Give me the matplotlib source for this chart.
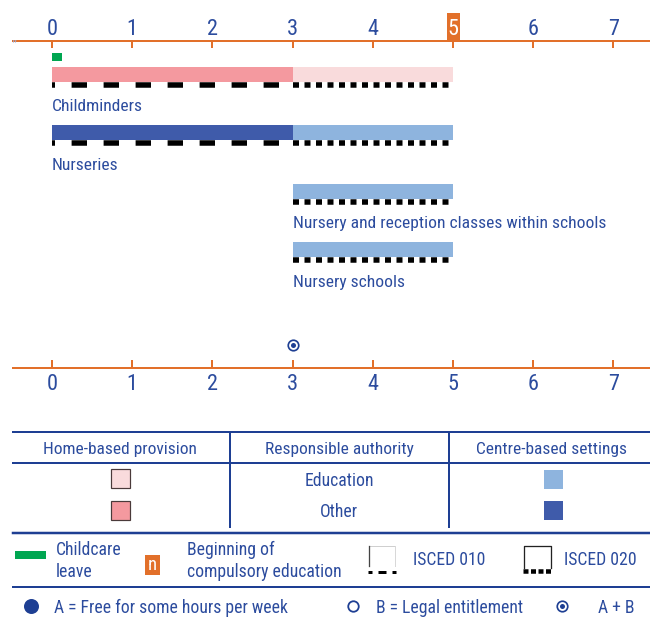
import matplotlib
matplotlib.use("Agg")
import matplotlib.pyplot as plt
from matplotlib import font_manager
from matplotlib.font_manager import FontProperties
from matplotlib.patches import Rectangle

plt.rcParams['lines.scale_dashes'] = False

# ---- find a condensed sans font ----
def find_condensed():
    ents = font_manager.fontManager.ttflist
    prefs = ['liberation sans narrow', 'arial narrow', 'roboto condensed', 'open sans condensed',
             'noto sans', 'dejavu sans', 'lato', 'inter', 'roboto']
    cands = []
    for e in ents:
        nm = e.name.lower()
        fn = e.fname.lower()
        cond = (e.stretch in ('condensed', 'semi-condensed', 'extra-condensed', 'ultra-condensed')
                or 'narrow' in nm or 'condensed' in nm or 'condensed' in fn or 'narrow' in fn)
        if not cond:
            continue
        if e.style != 'normal':
            continue
        w = e.weight if isinstance(e.weight, int) else {'normal': 400, 'regular': 400}.get(str(e.weight), 500)
        if w != 400:
            continue
        if 'mono' in nm or 'serif' in nm and 'sans' not in nm:
            continue
        rank = len(prefs)
        for k, p in enumerate(prefs):
            if nm.startswith(p) or p.replace(' ', '') in fn.replace('-', '').replace('_', ''):
                rank = k
                break
        extra = 0 if ('extra' not in fn and 'ultra' not in fn and 'semi' not in fn) else 1
        cands.append((rank, extra, e.fname))
    if cands:
        cands.sort()
        return cands[0][2]
    return None

CFILE = find_condensed()
if CFILE:
    SC = 1.0
else:
    plt.rcParams['font.family'] = ['Liberation Sans', 'DejaVu Sans']
    SC = 0.85


def T(a, x, y, s, size, **kw):
    if CFILE:
        fp = FontProperties(fname=CFILE, size=size * SC)
        return a.text(x, y, s, fontproperties=fp, **kw)
    return a.text(x, y, s, fontsize=size * SC, **kw)


# ---------------- data ----------------
years = [0, 1, 2, 3, 4, 5, 6, 7]
categories = ["Childminders", "Nurseries",
              "Nursery and reception classes within schools", "Nursery schools"]
other_start = [0, 0, None, None]
other_end = [3, 3, None, None]
education_start = [3, 3, 3, 3]
education_end = [5, 5, 5, 5]
home_based = [True, False, False, False]
childcare_leave_start = 0
childcare_leave_end = 0.12
compulsory_age = 5
entitlement_a_b_age = 3

# ---------------- styles ----------------
ORANGE = '#E2702A'
BLUE_TXT = '#2C4C9E'
NAVY = '#1E3F93'
PINK_DARK = '#F4999F'
PINK_LIGHT = '#F9DBDC'
BLUE_DARK = '#3F5BAA'
BLUE_LIGHT = '#8EB4DE'
GREEN = '#00A651'

LABEL_FS = 12.6
LEG_FS = 12.7
TICK_FS = 16

W, H = 650, 618
PX = 72 / 100.0  # points per pixel
fig = plt.figure(figsize=(6.5, 6.18), dpi=100)

X0, XS = 52.0, 80.2
ax = fig.add_axes([0, 0, 1, 1])
ax.set_xlim(-X0 / XS, (W - X0) / XS)
ax.set_ylim(H, 0)
ax.axis('off')

lay = fig.add_axes([0, 0, 1, 1])
lay.set_xlim(0, W)
lay.set_ylim(H, 0)
lay.axis('off')
lay.patch.set_visible(False)

# ---------------- top axis ----------------
lay.plot([12, W], [41, 41], color=ORANGE, lw=2 * PX, solid_capstyle='butt')
ax.vlines(years, 41, 47.7, color=ORANGE, lw=2 * PX)
for yv in years:
    if yv == compulsory_age:
        ax.add_patch(Rectangle((yv - 6.5 / XS, 13), 13.5 / XS, 28, color=ORANGE, lw=0))
        T(ax, yv, 35, str(yv), TICK_FS, ha='center', va='baseline', color='white')
    else:
        T(ax, yv, 35, str(yv), TICK_FS, ha='center', va='baseline', color=BLUE_TXT)
lay.text(11, 47, '\u201d', fontsize=7, color='#9AAAD8', ha='left', va='baseline')

# childcare leave
ax.barh(57, childcare_leave_end - childcare_leave_start, left=childcare_leave_start,
        height=8, color=GREEN, lw=0)

# ---------------- bars ----------------
ROW0, STEP = 74.2, 58.5
for i, cat in enumerate(categories):
    yc = ROW0 + i * STEP
    c_other = PINK_DARK if home_based[i] else BLUE_DARK
    c_edu = PINK_LIGHT if home_based[i] else BLUE_LIGHT
    starts = []
    if other_start[i] is not None:
        ax.barh(yc, other_end[i] - other_start[i], left=other_start[i], height=15,
                color=c_other, lw=0)
        ax.hlines(yc + 10.3, other_start[i], other_end[i], color='black', lw=5.5 * PX,
                  linestyles=[(12.4 * PX, (15.4 * PX, 16.6 * PX))])
        starts.append(other_start[i])
    ax.barh(yc, education_end[i] - education_start[i], left=education_start[i], height=15,
            color=c_edu, lw=0)
    ax.hlines(yc + 10.3, education_start[i], education_end[i], color='black', lw=5.5 * PX,
              linestyles=[(0, (6 * PX, 5.5 * PX))])
    starts.append(education_start[i])
    T(ax, min(starts), yc + 37, cat, LABEL_FS, ha='left', va='baseline', color=BLUE_TXT)

# entitlement marker
ax.plot(entitlement_a_b_age, 345, 'o', ms=10.5 * PX, mfc='white', mec=NAVY, mew=1.7 * PX)
ax.plot(entitlement_a_b_age, 345, 'o', ms=5 * PX, color=NAVY, mew=0)

# ---------------- bottom axis ----------------
lay.plot([12, W], [367.7, 367.7], color=ORANGE, lw=2 * PX, solid_capstyle='butt')
ax.vlines(years, 359.5, 367.7, color=ORANGE, lw=2 * PX)
for yv in years:
    T(ax, yv, 390, str(yv), TICK_FS, ha='center', va='baseline', color=BLUE_TXT)

# ---------------- table legend ----------------
LW = 2 * PX
lay.plot([12.5, W], [432.3, 432.3], color=NAVY, lw=LW)
lay.plot([12.5, W], [463.3, 463.3], color=NAVY, lw=LW)
lay.plot([229.5, 229.5], [432.3, 527], color=NAVY, lw=LW)
lay.plot([449, 449], [432.3, 527], color=NAVY, lw=LW)
lay.plot([12.5, W], [532.7, 532.7], color=NAVY, lw=2.5 * PX)
lay.plot([12.5, W], [587.3, 587.3], color=NAVY, lw=2 * PX)

T(lay, 120, 454.3, 'Home-based provision', 12.5, ha='center', va='baseline', color=BLUE_TXT)
T(lay, 339, 454.3, 'Responsible authority', 12.5, ha='center', va='baseline', color=BLUE_TXT)
T(lay, 552, 454.3, 'Centre-based settings', 12.5, ha='center', va='baseline', color=BLUE_TXT)
T(lay, 339, 486, 'Education', LEG_FS, ha='center', va='baseline', color=BLUE_TXT)
T(lay, 339, 517.3, 'Other', LEG_FS, ha='center', va='baseline', color=BLUE_TXT)

lay.add_patch(Rectangle((111, 469), 19, 19, facecolor=PINK_LIGHT, edgecolor='#4a3a3a', lw=1.2 * PX))
lay.add_patch(Rectangle((111, 500.5), 19, 19, facecolor=PINK_DARK, edgecolor='#4a3a3a', lw=1.2 * PX))
lay.add_patch(Rectangle((543.5, 469.5), 19, 19, facecolor=BLUE_LIGHT, lw=0))
lay.add_patch(Rectangle((543.5, 500.5), 19, 19, facecolor=BLUE_DARK, lw=0))

# second legend row
lay.add_patch(Rectangle((14.5, 551), 31, 7.5, facecolor=GREEN, lw=0))
T(lay, 56, 555, 'Childcare', LEG_FS, ha='left', va='baseline', color=BLUE_TXT)
T(lay, 56, 576.7, 'leave', LEG_FS, ha='left', va='baseline', color=BLUE_TXT)
lay.add_patch(Rectangle((145, 555), 15, 20, facecolor=ORANGE, lw=0))
T(lay, 152.5, 570.5, 'n', 13.5, ha='center', va='baseline', color='white')
T(lay, 186.7, 555, 'Beginning of', LEG_FS, ha='left', va='baseline', color=BLUE_TXT)
T(lay, 186.7, 576.7, 'compulsory education', LEG_FS, ha='left', va='baseline', color=BLUE_TXT)

# ISCED 010 icon
lay.plot([368.5, 395], [545.5, 545.5], color='#cfcfcf', lw=1 * PX)
lay.plot([395, 395], [545.5, 566], color='#d8d8d8', lw=1 * PX)
lay.plot([368.8, 368.8], [545.5, 566], color='#444444', lw=1.3 * PX)
lay.hlines(571.5, 368, 395.5, color='black', lw=3 * PX,
           linestyles=[(4 * PX, (8 * PX, 6 * PX))])
T(lay, 413, 565, 'ISCED 010', LEG_FS, ha='left', va='baseline', color=BLUE_TXT)

# ISCED 020 icon
lay.plot([523.5, 523.5, 551, 551], [568, 545.5, 545.5, 568], color='#222222', lw=1.3 * PX)
lay.hlines(570.5, 523, 551.5, color='black', lw=4.5 * PX,
           linestyles=[(0, (5 * PX, 2.5 * PX))])
T(lay, 564, 565, 'ISCED 020', LEG_FS, ha='left', va='baseline', color=BLUE_TXT)

# bottom legend row
lay.plot(31, 606, 'o', ms=15 * PX, color=NAVY, mew=0)
T(lay, 54, 613.3, 'A = Free for some hours per week', LEG_FS, ha='left', va='baseline', color=BLUE_TXT)
lay.plot(352.7, 606, 'o', ms=10.5 * PX, mfc='white', mec=NAVY, mew=1.8 * PX)
T(lay, 375.5, 613.3, 'B = Legal entitlement', LEG_FS, ha='left', va='baseline', color=BLUE_TXT)
lay.plot(562, 606, 'o', ms=10.5 * PX, mfc='white', mec=NAVY, mew=1.7 * PX)
lay.plot(562, 606, 'o', ms=5 * PX, color=NAVY, mew=0)
T(lay, 597.5, 613.3, 'A + B', LEG_FS, ha='left', va='baseline', color=BLUE_TXT)

fig.savefig('out.png', dpi=100)
